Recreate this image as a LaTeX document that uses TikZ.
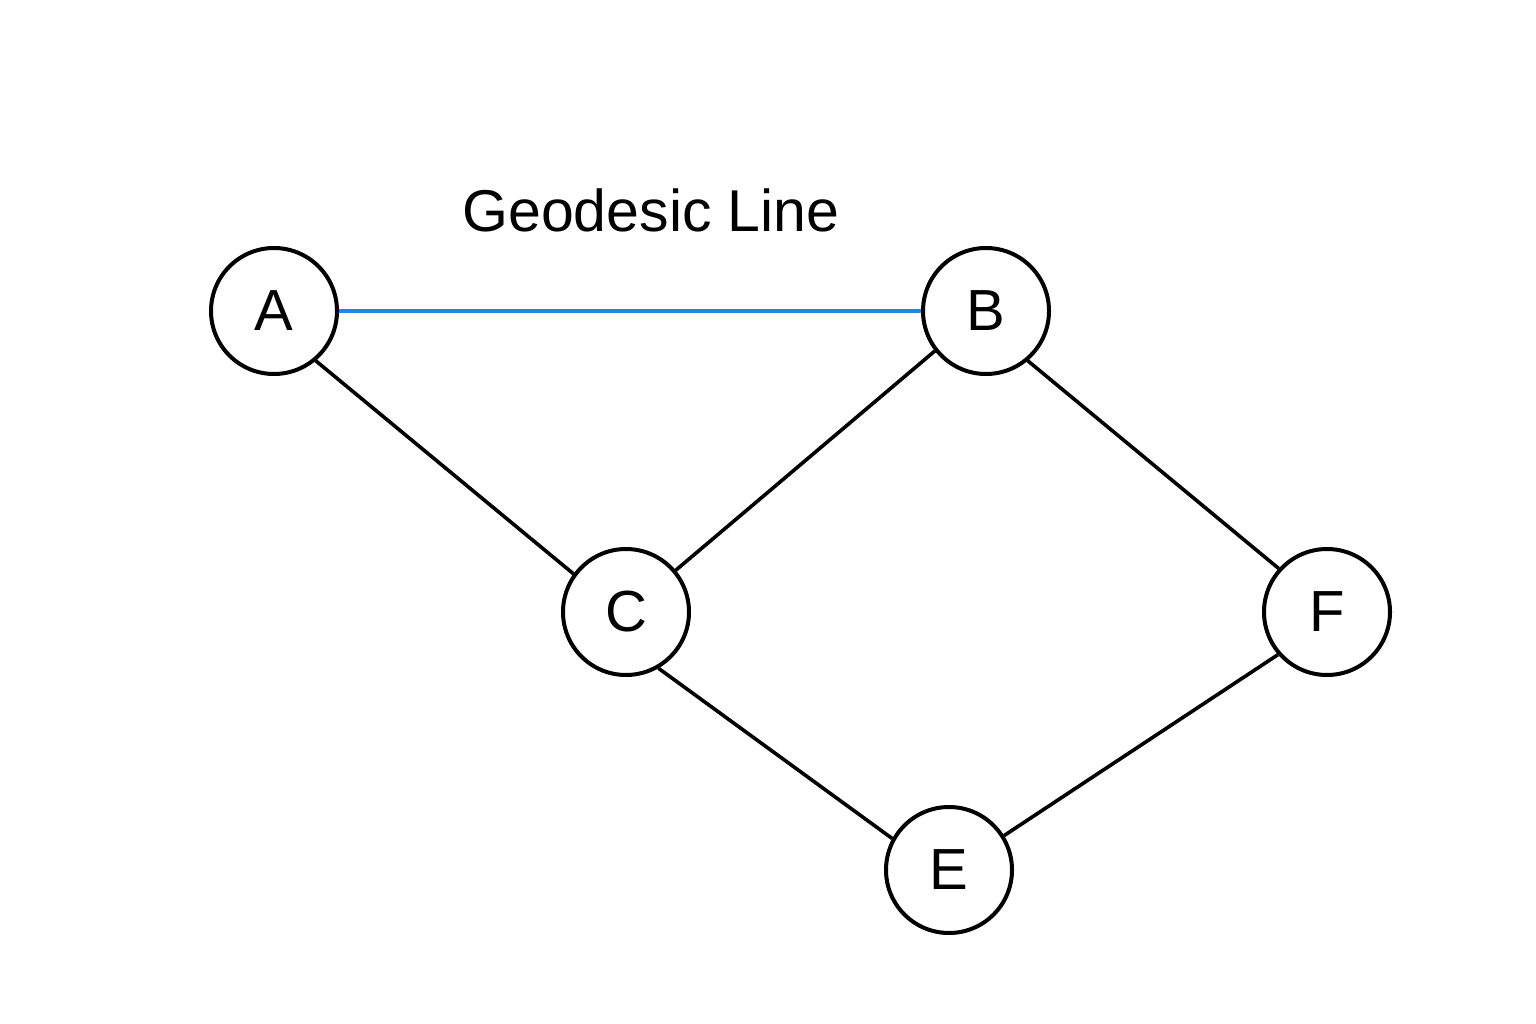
\documentclass[tikz,border=0pt]{standalone}
\usepackage{fontspec}
\setmainfont{Liberation Sans}
\definecolor{geoblue}{RGB}{30,136,229}
\begin{document}
\begin{tikzpicture}[x=1pt,y=-1pt,
  vtx/.style={circle,draw=black,line width=4pt,minimum size=126pt,inner sep=0pt,font=\fontsize{58}{60}\selectfont},
  edge/.style={line width=3.6pt,draw=black},
  geo/.style={line width=3.6pt,draw=geoblue}]
\useasboundingbox (0,0) rectangle (1536,1024);
\node[vtx] (A) at (274,311) {A};
\node[vtx] (B) at (986,311) {B};
\node[vtx] (C) at (626,612) {C};
\node[vtx] (F) at (1327,612) {F};
\node[vtx] (E) at (949,870) {E};
\node[font=\fontsize{59}{61}\selectfont] (T) at (651,210) {Geodesic Line};
\draw[geo] (A.0) -- (B.180);
\draw[edge] (A.-50) -- (C.144);
\draw[edge] (B.218) -- (C.40);
\draw[edge] (B.-50) -- (F.138);
\draw[edge] (C.-60) -- (E.151);
\draw[edge] (F.221) -- (E.32);
\end{tikzpicture}
\end{document}
